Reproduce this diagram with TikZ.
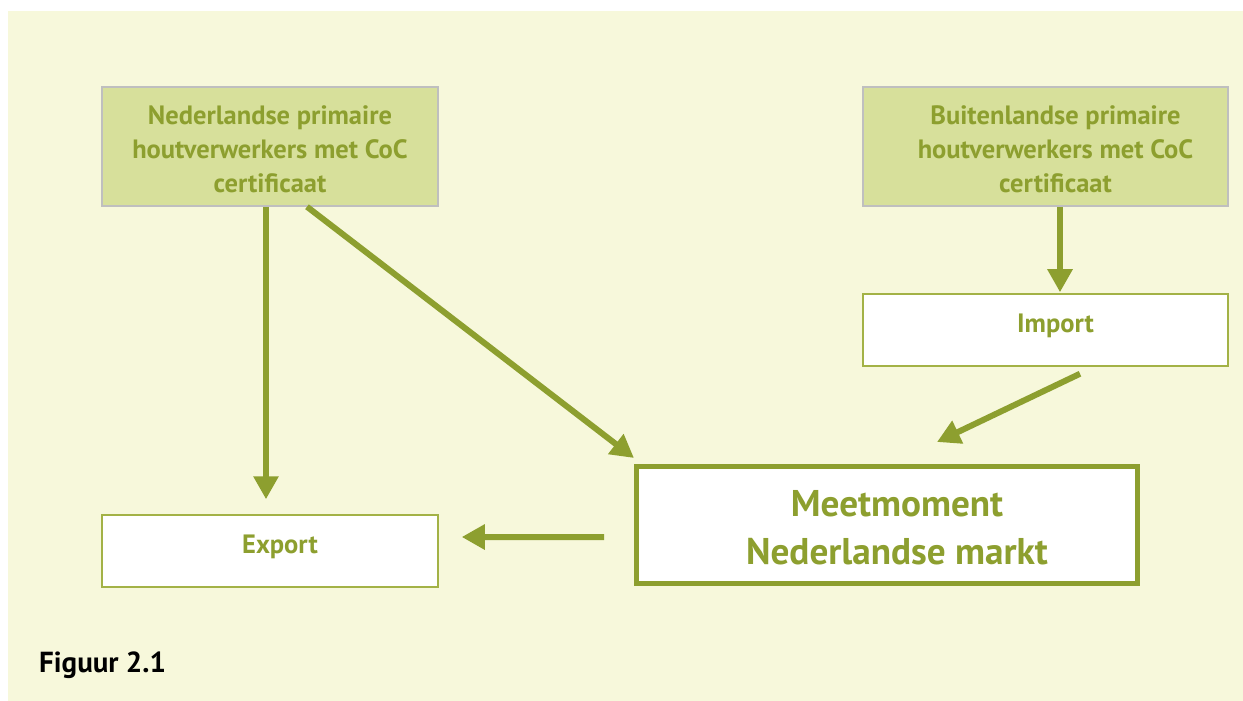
\documentclass[tikz,border=0pt]{standalone}
\usepackage{fontspec}
\setmainfont{PT Sans}
\usetikzlibrary{arrows.meta}
\definecolor{panel}{HTML}{F7F8DB}
\definecolor{boxfill}{HTML}{D7E09B}
\definecolor{olive}{HTML}{8D9F2F}
\definecolor{grayline}{HTML}{BFBFBF}
\definecolor{thinolive}{HTML}{A3B246}
\newcommand{\rsh}{\hspace*{20bp}}
\begin{document}
\begin{tikzpicture}[x=1bp,y=-1bp,
  srcbox/.style={draw=grayline, line width=1.5bp, fill=boxfill, minimum height=119bp,
    inner sep=0pt, align=center, text=olive, font=\fontsize{26.5bp}{34bp}\selectfont\bfseries},
  plainbox/.style={draw=thinolive, line width=1.5bp, fill=white, minimum height=72bp,
    inner sep=0pt, text=olive, text height=18bp, text depth=13.4bp,
    font=\fontsize{26.5bp}{34bp}\selectfont\bfseries},
  mainbox/.style={draw=olive, line width=5bp, fill=white, minimum width=501bp, minimum height=117bp,
    inner sep=0pt, align=center, text=olive, font=\fontsize{37.2bp}{48bp}\selectfont\bfseries},
  arr/.style={draw=olive, line width=6bp, -{Triangle[length=23bp,width=24bp]}}]
\useasboundingbox (0,0) rectangle (1243,701);
\fill[white] (0,0) rectangle (1243,701);
\fill[panel] (8,11) rectangle (1243,701);

\node[srcbox, minimum width=336bp] (nl) at (270,146.5) {\rule{0pt}{23.5bp}Nederlandse primaire\\houtverwerkers met CoC\\certificaat};
\node[srcbox, minimum width=365bp] (bl) at (1045.5,146.5) {\rule{0pt}{23.5bp}\rsh Buitenlandse primaire\\\rsh houtverwerkers met CoC\\\rsh certificaat};
\node[plainbox, minimum width=365bp] (imp) at (1045.5,330) {\rsh Import};
\node[plainbox, minimum width=336bp] (ex) at (270,551) {\rsh Export};
\node[mainbox] (mm) at (887,525) {\rule{0pt}{32bp}\rsh Meetmoment\\\rsh Nederlandse markt};
\node[anchor=base west, inner sep=0pt, font=\fontsize{29bp}{32bp}\selectfont\bfseries] (cap) at (39,672) {Figuur 2.1};

\draw[arr] ([xshift=-4bp]nl.south) -- ([xshift=-4bp,yshift=15bp]ex.north);
\draw[arr] ([xshift=37bp]nl.south) -- ([yshift=6bp]mm.north west);
\draw[arr] ([xshift=14.5bp]bl.south) -- ([xshift=14.5bp,yshift=1bp]imp.north);
\draw[arr] ([xshift=34.5bp,yshift=-7bp]imp.south) -- ([xshift=50bp,yshift=22bp]mm.north);
\draw[arr] ([xshift=-30bp,yshift=-12bp]mm.west) -- ([xshift=23bp,yshift=14bp]ex.east);
\end{tikzpicture}
\end{document}
